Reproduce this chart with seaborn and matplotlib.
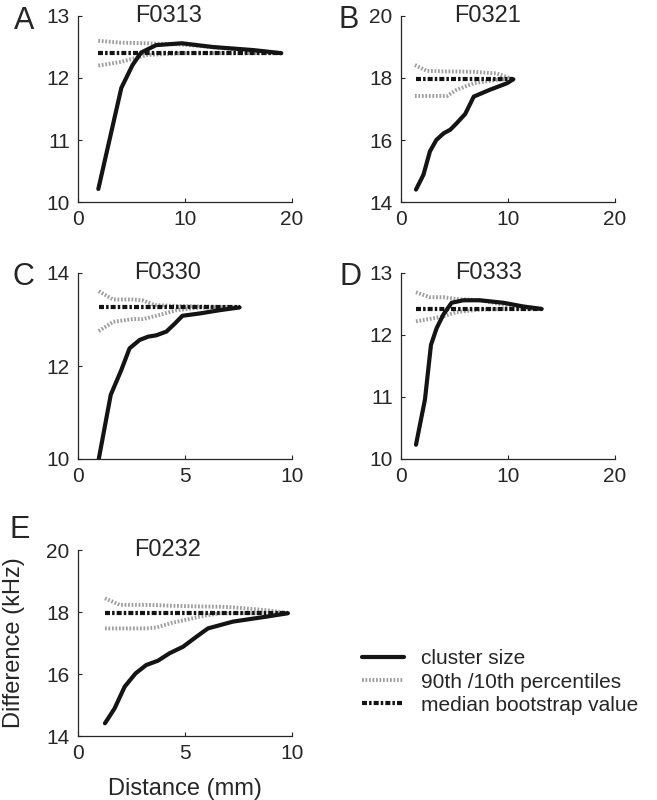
import matplotlib as mpl
mpl.use("Agg")
import matplotlib.pyplot as plt
from matplotlib.lines import Line2D
import seaborn as sns

# ---- data ----
# panel A, F0313
a_x = [1.9, 4.05, 5.1, 5.9, 7.3, 9.7, 12.6, 16.4, 19.0]
a_clu = [10.21, 11.84, 12.21, 12.41, 12.53, 12.56, 12.50, 12.45, 12.40]
a_px = [1.9, 4.0, 6.4, 9.7, 13.0, 16.0, 19.0]
a_p90 = [12.60, 12.57, 12.56, 12.54, 12.49, 12.44, 12.40]
a_p10 = [12.20, 12.26, 12.37, 12.40, 12.40, 12.40, 12.40]
a_med = 12.40

# panel B, F0321
b_x = [1.4, 2.1, 2.7, 3.3, 4.0, 4.6, 5.2, 6.0, 6.8, 8.3, 9.9, 10.5]
b_clu = [14.40, 14.88, 15.63, 16.00, 16.22, 16.33, 16.54, 16.84, 17.40, 17.62, 17.83, 17.96]
b_px = [1.3, 2.4, 4.3, 5.2, 6.8, 8.9, 10.5]
b_p90 = [18.42, 18.23, 18.21, 18.21, 18.20, 18.15, 17.96]
b_p10 = [17.42, 17.42, 17.42, 17.62, 17.83, 17.94, 17.96]
b_med = 17.96

# panel C, F0330
c_x = [0.97, 1.53, 2.02, 2.41, 2.88, 3.27, 3.66, 4.13, 4.52, 4.88, 5.69, 6.62, 7.55]
c_clu = [10.0, 11.38, 11.91, 12.38, 12.56, 12.63, 12.66, 12.74, 12.91, 13.08, 13.13, 13.20, 13.26]
c_px = [0.97, 1.64, 2.57, 3.04, 3.58, 4.6, 5.7, 7.55]
c_p90 = [13.61, 13.43, 13.43, 13.41, 13.31, 13.29, 13.28, 13.26]
c_p10 = [12.75, 12.95, 13.01, 13.01, 13.07, 13.20, 13.26, 13.26]
c_med = 13.26

# panel D, F0333
d_x = [1.4, 2.24, 2.8, 3.33, 3.96, 4.73, 5.83, 7.38, 9.56, 11.43, 13.15]
d_clu = [10.23, 10.96, 11.84, 12.11, 12.33, 12.52, 12.56, 12.56, 12.52, 12.46, 12.42]
d_px = [1.4, 2.7, 3.96, 5.2, 7.38, 9.56, 13.15]
d_p90 = [12.69, 12.61, 12.61, 12.58, 12.56, 12.49, 12.42]
d_p10 = [12.22, 12.26, 12.30, 12.37, 12.41, 12.42, 12.42]
d_med = 12.42

# panel E, F0232
e_x = [1.26, 1.71, 2.18, 2.69, 3.19, 3.74, 4.28, 4.91, 5.53, 6.07, 7.24, 8.8, 9.81]
e_clu = [14.41, 14.89, 15.59, 16.02, 16.29, 16.43, 16.67, 16.88, 17.20, 17.47, 17.69, 17.85, 17.96]
e_px = [1.26, 1.95, 3.19, 3.66, 4.44, 5.06, 5.69, 6.62, 7.24, 8.8, 9.81]
e_p90 = [18.44, 18.23, 18.23, 18.22, 18.20, 18.19, 18.18, 18.17, 18.15, 18.06, 17.96]
e_p10 = [17.47, 17.47, 17.47, 17.50, 17.66, 17.75, 17.85, 17.96, 17.96, 17.96, 17.96]
e_med = 17.96

names = ["F0313", "F0321", "F0330", "F0333", "F0232"]
letters = ["A", "B", "C", "D", "E"]
legend_labels = ["cluster size", "90th /10th percentiles", "median bootstrap value"]

sns.set_style("ticks")
plt.rcParams["font.family"] = ["Liberation Sans", "DejaVu Sans"]
plt.rcParams["xtick.direction"] = "in"
plt.rcParams["ytick.direction"] = "in"

W, H = 657, 800
fig = plt.figure(figsize=(6.57, 8.0), dpi=100)


def px_axes(left, top, w=214, h=186):
    return fig.add_axes([left / W, (H - top - h) / H, w / W, h / H])


panels = [
    (a_x, a_clu, a_px, a_p90, a_p10, a_med, (0, 20), [0, 10, 20], (10, 13), [10, 11, 12, 13], 78, 16, 0.425),
    (b_x, b_clu, b_px, b_p90, b_p10, b_med, (0, 20), [0, 10, 20], (14, 20), [14, 16, 18, 20], 401, 16, 0.405),
    (c_x, c_clu, c_px, c_p90, c_p10, c_med, (0, 10), [0, 5, 10], (10, 14), [10, 12, 14], 78, 273, 0.42),
    (d_x, d_clu, d_px, d_p90, d_p10, d_med, (0, 20), [0, 10, 20], (10, 13), [10, 11, 12, 13], 401, 273, 0.41),
    (e_x, e_clu, e_px, e_p90, e_p10, e_med, (0, 10), [0, 5, 10], (14, 20), [14, 16, 18, 20], 78, 550, 0.42),
]
letter_pos = [(24, 21), (349, 20), (23, 277), (350, 277), (20, 530)]

pct_style = dict(color="0.62", lw=2.8, linestyle=(0, (0.45, 0.45)))
med_style = dict(color="0.08", lw=3.0, linestyle=(0, (1.2, 0.5, 0.6, 0.5)))
clu_style = dict(color="0.08", lw=3.0, linestyle="-")

for i, (x, clu, px, p90, p10, med, xl, xt, yl, yt, left, top, tx) in enumerate(panels):
    ax = px_axes(left, top)
    sns.lineplot(x=px, y=p90, ax=ax, **pct_style)
    sns.lineplot(x=px, y=p10, ax=ax, **pct_style)
    sns.lineplot(x=[x[0], x[-1]], y=[med, med], ax=ax, **med_style)
    sns.lineplot(x=x, y=clu, ax=ax, **clu_style)
    ax.set_xlim(*xl)
    ax.set_ylim(*yl)
    ax.set_xticks(xt)
    ax.set_yticks(yt)
    ax.tick_params(labelsize=15, length=3, width=0.8, pad=6)
    for s in ("left", "bottom"):
        ax.spines[s].set_linewidth(0.9)
    sns.despine(ax=ax)
    ax.text(tx, 1.0, names[i], transform=ax.transAxes, ha="center", va="center", fontsize=17)
    ax.set_xlabel("")
    ax.set_ylabel("")
    lx, ly = letter_pos[i]
    fig.text(lx / W, 1 - ly / H, letters[i], ha="center", va="center", fontsize=22)
    if i == 4:
        ax.set_xlabel("Distance (mm)", fontsize=17)
        ax.set_ylabel("Difference (kHz)", fontsize=17)
        ax.xaxis.set_label_coords(0.5, -0.226)
        ax.yaxis.set_label_coords(-0.248, 0.5)

handles = [
    Line2D([], [], **clu_style),
    Line2D([], [], **pct_style),
    Line2D([], [], **med_style),
]
fig.legend(handles, legend_labels, loc="center left", bbox_to_anchor=(362 / W, 1 - 682 / H),
           frameon=False, fontsize=15, handlelength=2.0, handletextpad=0.85,
           labelspacing=0.2, borderpad=0, borderaxespad=0)

fig.savefig("out.png", dpi=100)
